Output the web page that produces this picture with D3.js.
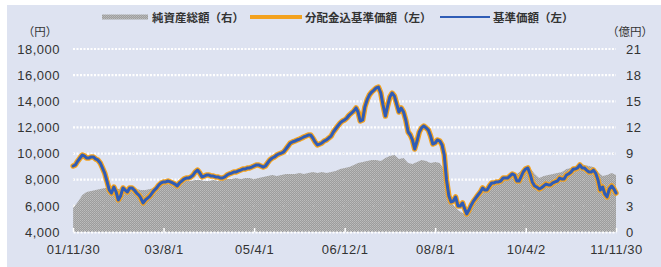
<!DOCTYPE html>
<html><head><meta charset="utf-8">
<script src="https://cdn.jsdelivr.net/npm/d3@7"></script>
<style>html,body{margin:0;padding:0;background:#fff;}svg{display:block}</style>
</head><body><svg id="c" width="661" height="267"></svg>
<script>
// ---- DATA ----
const months = [
"2001-12",
"2002-01","2002-02","2002-03","2002-04","2002-05","2002-06","2002-07","2002-08","2002-09","2002-10","2002-11","2002-12",
"2003-01","2003-02","2003-03","2003-04","2003-05","2003-06","2003-07","2003-08","2003-09","2003-10","2003-11","2003-12",
"2004-01","2004-02","2004-03","2004-04","2004-05","2004-06","2004-07","2004-08","2004-09","2004-10","2004-11","2004-12",
"2005-01","2005-02","2005-03","2005-04","2005-05","2005-06","2005-07","2005-08","2005-09","2005-10","2005-11","2005-12",
"2006-01","2006-02","2006-03","2006-04","2006-05","2006-06","2006-07","2006-08","2006-09","2006-10","2006-11","2006-12",
"2007-01","2007-02","2007-03","2007-04","2007-05","2007-06","2007-07","2007-08","2007-09","2007-10","2007-11","2007-12",
"2008-01","2008-02","2008-03","2008-04","2008-05","2008-06","2008-07","2008-08","2008-09","2008-10","2008-11","2008-12",
"2009-01","2009-02","2009-03","2009-04","2009-05","2009-06","2009-07","2009-08","2009-09","2009-10","2009-11","2009-12",
"2010-01","2010-02","2010-03","2010-04","2010-05","2010-06","2010-07","2010-08","2010-09","2010-10","2010-11","2010-12",
"2011-01","2011-02","2011-03","2011-04","2011-05","2011-06","2011-07","2011-08","2011-09","2011-10","2011-11"
];
const lastDate = "2011-11-30";
// semi-monthly NAV dates (1st and 16th) plus the last date
const navDates = months.flatMap(m => [m + "-01", m + "-16"]).concat([lastDate]);
// monthly net-asset dates plus the last date
const assetDates = months.map(m => m + "-01").concat([lastDate]);

// 基準価額 (円)
const navValues = [
9050,9130,9430,9660,9890,9810,9660,9660,9740,9740,
9590,9510,9280,8900,8510,7900,7210,6980,7440,7060,
6450,6750,7370,7210,7060,7370,7370,7210,6980,6830,
6600,6220,6450,6600,6750,6980,7210,7370,7600,7750,
7830,7830,7900,7830,7750,7670,7520,7750,7900,8050,
8130,8130,8210,8360,8590,8740,8510,8210,8280,8360,
8360,8280,8280,8210,8210,8130,8130,8210,8360,8440,
8510,8590,8590,8670,8740,8820,8820,8900,8900,8970,
9050,9130,9130,9050,8970,9050,9280,9510,9660,9740,
9890,9970,10040,10120,10350,10580,10810,10890,10960,11040,
11110,11190,11270,11340,11420,11420,11190,10890,10660,10730,
10810,10960,11040,11190,11340,11650,11880,12110,12340,12490,
12570,12720,12950,13100,13260,13490,13180,12490,12570,13560,
14100,14480,14710,14860,15020,15090,14630,13720,12870,13640,
14330,14630,14400,13790,13180,13490,13180,12570,11650,11420,
11040,10350,10960,11650,11960,12110,11960,11800,11340,10730,
10810,11040,10960,10660,9890,7980,6750,6300,6370,6680,
5990,5990,6220,5760,5380,5680,6070,6370,6600,6830,
7060,7370,7210,7210,7520,7750,7750,7830,7830,7900,
8130,8130,8130,8280,8440,8360,7900,7900,8210,8590,
8820,8900,8440,7830,7520,7440,7290,7370,7520,7670,
7600,7600,7750,7830,7900,8130,8050,8050,8360,8440,
8590,8820,8820,8900,9130,8900,8900,8740,8590,8590,
8740,8510,7980,7210,7440,6910,6680,7290,7520,7290,
6980
];
// 分配金込基準価額 (円) – no visible difference from 基準価額 in the picture
const navWithDistValues = navValues.slice();

// 純資産総額 (億円)
const assetValues = [
2.75,3.44,4.25,4.59,4.70,4.82,4.93,5.05,5.05,4.93,
4.93,5.05,5.05,4.93,4.93,4.82,4.82,4.93,5.05,5.28,
5.51,5.62,5.62,5.51,5.74,5.85,5.85,5.97,5.97,5.85,
5.85,5.97,5.85,5.97,6.08,6.08,6.20,6.08,6.20,6.20,
6.08,6.20,6.31,6.43,6.54,6.43,6.54,6.66,6.66,6.66,
6.77,6.66,6.77,6.89,6.77,6.89,6.77,6.89,7.00,7.23,
7.34,7.46,7.69,7.92,8.03,8.15,8.26,8.26,8.15,8.49,
8.72,8.84,8.38,8.49,7.92,7.80,8.03,8.26,8.15,7.92,
8.03,7.92,7.11,4.25,3.10,2.52,2.18,1.95,2.87,3.67,
4.36,4.82,5.28,5.62,5.85,6.20,6.31,6.77,6.66,7.00,
7.57,7.34,6.66,6.20,6.43,6.54,6.66,6.77,6.89,7.23,
7.34,7.57,7.92,7.69,7.57,7.46,6.89,6.43,6.54,6.77,
6.54
];

const leftTicks = [4000,6000,8000,10000,12000,14000,16000,18000];
const rightTicks = [0,3,6,9,12,15,18,21];
const xTickDates = ["2001-11-30","2003-08-01","2005-04-01","2006-12-01","2008-08-01","2010-04-02","2011-11-30"];
const xTickLabels = ["01/11/30","03/8/1","05/4/1","06/12/1","08/8/1","10/4/2","11/11/30"];
const legendLabels = ["純資産総額（右）","分配金込基準価額（左）","基準価額（左）"];
const leftUnit = "（円）";
const rightUnit = "（億円）";

// ---- DRAW ----
const parse = d3.utcParse("%Y-%m-%d");
const svg = d3.select("#c");
const W = 661, H = 267;
const plot = {l: 73, r: 616, t: 49, b: 232};

const x = d3.scaleUtc().domain([parse(xTickDates[0]), parse(xTickDates[xTickDates.length-1])]).range([plot.l, plot.r]);
const yL = d3.scaleLinear().domain([4000, 18000]).range([plot.b, plot.t]);
const yR = d3.scaleLinear().domain([0, 21]).range([plot.b, plot.t]);

const defs = svg.append("defs");
const pat = defs.append("pattern").attr("id","dots").attr("width",2).attr("height",2).attr("patternUnits","userSpaceOnUse");
pat.append("rect").attr("width",2).attr("height",2).attr("fill","#9d9d9d");
pat.append("rect").attr("x",0).attr("y",0).attr("width",1).attr("height",1).attr("fill","#bdbdbd");
pat.append("rect").attr("x",1).attr("y",1).attr("width",1).attr("height",1).attr("fill","#b3b3b3");

// panel background
svg.append("rect").attr("x",7).attr("y",5).attr("width",W-7).attr("height",H-5).attr("fill","#dee3f1");

// gridlines
svg.append("g").selectAll("line").data(leftTicks.slice(1)).join("line")
  .attr("x1", plot.l).attr("x2", plot.r)
  .attr("y1", d => yL(d)).attr("y2", d => yL(d))
  .attr("stroke","#ffffff").attr("stroke-width",2.2).attr("stroke-dasharray","2,1.5");

// area: net assets
const area = d3.area()
  .x((d,i) => x(parse(assetDates[i])))
  .y0(yR(0))
  .y1(d => yR(d));
svg.append("path").datum(assetValues).attr("d", area).attr("fill","url(#dots)");

// faint grid marks over area
svg.append("g").selectAll("line").data(leftTicks.slice(1,4)).join("line")
  .attr("x1", plot.l).attr("x2", plot.r)
  .attr("y1", d => yL(d)).attr("y2", d => yL(d))
  .attr("stroke","#d8d8d8").attr("stroke-width",1).attr("stroke-dasharray","1,29").attr("opacity",0.7);

// lines
const line = d3.line()
  .x((d,i) => x(parse(navDates[i])))
  .y(d => yL(d))
  .curve(d3.curveLinear);
svg.append("path").datum(navWithDistValues).attr("d", line)
  .attr("fill","none").attr("stroke","#f3a21f").attr("stroke-width",5.5)
  .attr("stroke-linejoin","round").attr("stroke-linecap","round");
svg.append("path").datum(navValues).attr("d", line)
  .attr("fill","none").attr("stroke","#2f5cb6").attr("stroke-width",3)
  .attr("stroke-linejoin","round").attr("stroke-linecap","round");

// axes
const fontAxis = "'Liberation Sans', Arial, sans-serif";
const axL = d3.axisLeft(yL).tickValues(leftTicks).tickFormat(d3.format(",")).tickSize(0).tickPadding(13);
const gL = svg.append("g").attr("transform",`translate(${plot.l},0)`).call(axL);
const axR = d3.axisRight(yR).tickValues(rightTicks).tickFormat(d3.format("d")).tickSize(0).tickPadding(10);
const gR = svg.append("g").attr("transform",`translate(${plot.r},0)`).call(axR);
const axB = d3.axisBottom(x).tickValues(xTickDates.map(parse))
  .tickFormat((d,i) => xTickLabels[i]).tickSizeInner(-4).tickSizeOuter(0).tickPadding(13);
const gB = svg.append("g").attr("transform",`translate(0,${plot.b})`).call(axB);
gB.select(".domain").attr("stroke","#ffffff").attr("stroke-width",2).attr("stroke-dasharray","2,1.5");
gB.selectAll(".tick line").attr("stroke","#ffffff").attr("stroke-width",1.5);
[gL,gR,gB].forEach(g => {
  g.attr("font-family", null).attr("font-size", null);
  g.selectAll(".domain").filter(function(){return g!==gB;}).remove();
  g.selectAll("text").attr("font-family", fontAxis).attr("font-size", 13)
    .attr("fill","#333").attr("letter-spacing","0.5px");
});

// units
const fontJP = "'Noto Sans CJK JP', sans-serif";
svg.append("text").attr("x",40).attr("y",36).attr("text-anchor","middle")
  .attr("font-family",fontJP).attr("font-size",11.5).attr("fill","#333").text(leftUnit);
svg.append("text").attr("x",630).attr("y",36).attr("text-anchor","middle")
  .attr("font-family",fontJP).attr("font-size",11.5).attr("fill","#333").text(rightUnit);

// legend
const lg = svg.append("g");
lg.append("rect").attr("x",102).attr("y",14.5).attr("width",46).attr("height",5).attr("fill","url(#dots)");
lg.append("text").attr("x",152).attr("y",21.5).text(legendLabels[0]);
lg.append("rect").attr("x",250).attr("y",15).attr("width",52).attr("height",4).attr("fill","#f3a21f");
lg.append("text").attr("x",305).attr("y",21.5).text(legendLabels[1]);
lg.append("line").attr("x1",440).attr("x2",490).attr("y1",17).attr("y2",17).attr("stroke","#2f5cb6").attr("stroke-width",2.2);
lg.append("text").attr("x",493).attr("y",21.5).text(legendLabels[2]);
lg.selectAll("text").attr("font-family",fontJP).attr("font-size",11.5).attr("font-weight","bold").attr("fill","#333");
</script>
</body></html>
